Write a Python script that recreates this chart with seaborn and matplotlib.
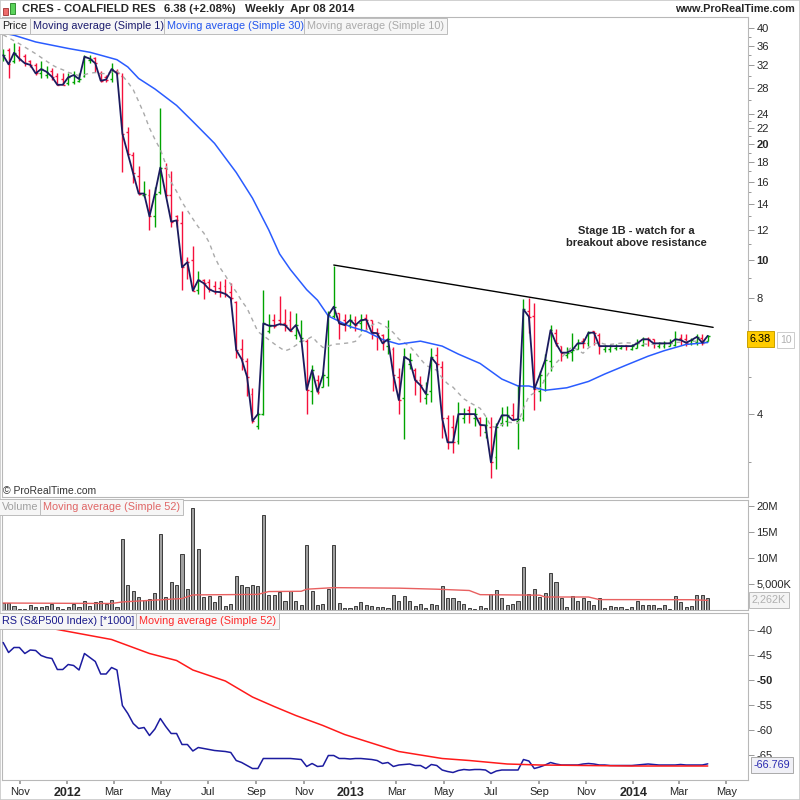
import numpy as np
import pandas as pd
import matplotlib
matplotlib.use("Agg")
import matplotlib.pyplot as plt
from matplotlib.patches import Rectangle
from matplotlib.ticker import FixedLocator, NullFormatter
import seaborn as sns

# weekly bars for CRES - Coalfield Res
first_week = "2011-10-10"

opens = [33.0, 35.0, 32.8, 35.0, 33.8, 32.8, 32.0, 30.5, 30.3, 31.0,
         30.0, 29.5, 28.8, 29.0, 29.2, 30.0, 33.0, 33.5, 30.5, 29.8,
         29.5, 31.0, 30.0, 21.5, 18.8, 16.5, 14.8, 14.8, 13.0, 15.0,
         17.4, 14.8, 13.0, 12.5, 10.0, 10.0, 8.4, 8.9, 8.8, 8.6,
         8.5, 8.6, 8.3, 7.8, 5.9, 5.5, 4.5, 3.72, 4.0, 6.55,
         7.0, 7.0, 6.9, 7.0, 6.4, 6.2, 6.2, 4.6, 4.9, 4.7,
         5.0, 7.2, 7.3, 7.0, 6.8, 7.0, 6.9, 7.1, 7.0, 6.5,
         6.4, 6.0, 5.9, 5.0, 4.4, 5.4, 5.2, 4.9, 4.4, 4.6,
         5.7, 5.3, 3.9, 3.7, 3.4, 3.9, 4.1, 3.9, 3.9, 3.6,
         3.7, 3.1, 3.8, 3.85, 3.97, 3.85, 3.9, 7.4, 7.2, 4.6,
         4.9, 5.5, 6.5, 6.0, 5.7, 5.8, 5.9, 6.2, 6.1, 6.55,
         6.4, 5.9, 5.9, 5.92, 5.95, 6.05, 5.9, 5.95, 6.05, 6.27,
         6.25, 6.0, 6.0, 6.0, 6.05, 6.3, 6.25, 6.1, 6.15, 6.3,
         6.2]
highs = [35.2, 35.5, 36.6, 35.9, 34.3, 33.1, 32.4, 32.9, 31.8, 31.5,
         30.6, 30.5, 30.6, 31.0, 30.6, 34.0, 34.0, 33.6, 31.0, 30.2,
         32.4, 31.3, 30.6, 22.2, 19.1, 17.6, 16.1, 15.3, 15.5, 24.8,
         17.9, 17.0, 13.1, 13.4, 10.2, 10.9, 9.4, 8.95, 8.95, 8.85,
         8.85, 8.95, 8.75, 7.86, 6.27, 5.6, 4.68, 4.05, 8.4, 7.25,
         7.25, 8.1, 7.47, 7.4, 7.33, 7.0, 6.27, 5.37, 5.05, 5.15,
         7.4, 9.7, 7.33, 7.25, 7.25, 7.2, 7.25, 7.25, 7.0, 6.7,
         6.45, 7.0, 5.96, 5.28, 5.93, 5.75, 5.28, 5.03, 4.85, 5.93,
         5.97, 5.5, 3.97, 3.97, 4.3, 4.14, 4.2, 4.14, 3.92, 3.92,
         3.92, 3.8, 4.17, 4.2, 4.27, 4.77, 7.93, 8.0, 7.78, 5.17,
         5.72, 6.8, 6.63, 6.0, 5.97, 6.5, 6.25, 6.3, 6.55, 6.55,
         6.5, 6.05, 6.05, 6.07, 6.05, 6.05, 6.07, 6.25, 6.32, 6.32,
         6.27, 6.15, 6.2, 6.25, 6.55, 6.45, 6.45, 6.3, 6.45, 6.45,
         6.4]
lows = [32.8, 29.7, 32.4, 32.9, 31.9, 31.6, 30.2, 29.7, 29.7, 29.4,
        28.4, 28.4, 28.4, 28.6, 29.0, 29.8, 32.4, 30.8, 29.0, 29.0,
        29.0, 30.2, 16.9, 18.8, 15.9, 14.8, 14.6, 12.0, 12.2, 14.9,
        14.6, 12.2, 12.2, 8.4, 8.95, 8.33, 8.2, 7.93, 8.3, 8.2,
        8.05, 8.03, 7.9, 5.6, 5.2, 4.45, 3.8, 3.65, 3.98, 6.5,
        6.7, 6.8, 6.56, 6.56, 6.25, 6.2, 4.0, 4.25, 4.5, 4.7,
        4.73, 7.1, 6.25, 6.56, 6.7, 6.56, 6.56, 6.6, 6.25, 5.87,
        5.87, 5.72, 4.58, 4.0, 3.45, 5.23, 4.48, 4.3, 4.25, 4.3,
        5.3, 3.47, 3.25, 3.17, 3.35, 3.8, 3.8, 3.73, 3.5, 3.47,
        2.73, 2.88, 3.73, 3.73, 3.86, 3.25, 3.85, 6.5, 4.1, 4.33,
        4.58, 5.17, 6.0, 5.5, 5.6, 5.5, 5.88, 5.93, 6.0, 6.05,
        5.72, 5.8, 5.8, 5.85, 5.9, 5.87, 5.87, 5.93, 6.0, 6.0,
        5.95, 5.93, 5.93, 6.0, 6.0, 6.05, 6.0, 6.05, 6.05, 6.05,
        6.2]
closes = [34.0, 32.2, 34.5, 33.3, 32.4, 32.1, 30.5, 31.3, 30.8, 29.9,
          28.5, 28.5, 29.8, 30.2, 29.5, 33.7, 33.3, 32.4, 29.2, 29.4,
          31.3, 30.5, 21.3, 18.9, 16.8, 14.9, 14.9, 13.0, 14.9, 17.4,
          14.8, 12.6, 12.7, 9.6, 9.9, 8.35, 8.9, 8.73, 8.42, 8.3,
          8.28, 8.19, 7.98, 5.86, 5.55, 5.0, 3.84, 4.0, 6.87, 6.78,
          6.77, 6.84, 6.8, 6.57, 6.8, 6.28, 4.62, 5.2, 4.57, 5.05,
          7.22, 7.59, 6.87, 6.8, 7.01, 6.8, 7.0, 7.03, 6.5, 6.48,
          6.1, 6.25, 5.05, 4.35, 5.63, 5.52, 4.9, 4.75, 4.51, 5.61,
          5.39, 3.9, 3.38, 3.38, 4.0, 4.0, 4.0, 4.0, 3.75, 3.74,
          3.0, 3.71, 3.97, 3.97, 3.86, 3.88, 7.47, 7.15, 4.64, 5.05,
          5.52, 6.6, 6.1, 5.77, 5.77, 5.86, 6.1, 6.1, 6.5, 6.5,
          6.0, 6.0, 6.0, 6.0, 6.0, 6.0, 6.0, 6.1, 6.25, 6.25,
          6.1, 6.1, 6.1, 6.1, 6.25, 6.22, 6.12, 6.22, 6.34, 6.12,
          6.38]

# volume in millions
volume_m = [1.3, 1.3, 0.8, 0.25, 0.25, 1.0, 0.5, 0.6, 0.8, 1.1,
            0.5, 0.2, 0.5, 1.1, 0.6, 1.8, 0.8, 1.5, 1.8, 1.1,
            2.0, 0.6, 13.7, 4.85, 3.7, 2.5, 2.0, 2.2, 3.25, 14.7,
            2.55, 5.35, 4.85, 10.7, 4.0, 19.7, 11.7, 2.55, 2.75, 1.5,
            2.75, 0.8, 1.2, 6.6, 4.85, 4.5, 4.85, 4.65, 18.25, 2.95,
            2.95, 3.45, 1.65, 3.6, 1.65, 1.0, 12.5, 3.6, 1.0, 1.2,
            4.0, 12.5, 1.35, 0.4, 0.4, 0.8, 1.5, 1.0, 0.8, 0.6,
            0.5, 0.4, 2.95, 1.65, 2.75, 1.8, 0.8, 1.2, 0.4, 1.2,
            1.0, 4.65, 2.3, 2.3, 1.8, 1.2, 0.4, 0.25, 0.8, 0.4,
            3.1, 3.9, 2.3, 1.0, 1.2, 1.8, 8.2, 3.1, 4.0, 2.5,
            3.25, 7.1, 5.35, 2.3, 0.6, 2.75, 1.8, 2.3, 1.8, 1.0,
            2.3, 0.4, 0.8, 0.6, 0.6, 0.2, 0.6, 1.8, 1.0, 1.0,
            1.0, 0.4, 1.0, 0.2, 2.75, 1.5, 0.6, 0.8, 2.95, 2.95,
            2.262]

# relative strength vs S&P500 (*1000)
rs = [-42.5, -44.5, -43.5, -43.5, -44.7, -44.0, -44.1, -45.1, -45.5, -45.7,
      -47.9, -47.9, -46.9, -47.1, -48.0, -44.7, -45.5, -46.3, -48.8, -48.8,
      -47.5, -48.0, -55.1, -56.7, -58.7, -59.7, -59.5, -61.1, -59.8, -57.7,
      -59.3, -60.7, -60.7, -62.9, -62.9, -64.2, -63.5, -63.7, -63.9, -64.1,
      -64.2, -64.3, -64.5, -66.1, -66.5, -67.1, -67.7, -67.7, -65.7, -65.7,
      -65.7, -65.7, -65.7, -65.7, -65.8, -65.9, -67.3, -66.7, -67.3, -67.2,
      -65.1, -65.1, -65.7, -65.7, -65.8, -65.7, -65.7, -65.8, -65.9, -66.1,
      -66.7, -66.5, -67.3, -67.0, -66.9, -66.8, -67.1, -67.1, -67.7, -66.9,
      -67.1, -68.0, -68.3, -68.5, -68.1, -67.9, -68.0, -67.9, -67.9, -68.0,
      -68.7, -68.2, -68.0, -68.0, -68.0, -68.0, -65.9, -66.2, -67.7, -67.4,
      -67.0, -66.5, -66.8, -67.0, -67.0, -67.0, -67.0, -66.8, -66.7, -66.8,
      -67.0, -67.0, -67.1, -67.1, -67.1, -67.1, -67.1, -67.0, -66.9, -66.8,
      -66.9, -67.0, -67.0, -67.0, -67.0, -66.9, -67.0, -67.0, -67.0, -67.0,
      -66.769]

# moving averages as drawn (they reach back before the first bar)
ma10_head_idx = [0, 3, 6]
ma10_head = [38.4, 36.4, 34.3]
ma30_idx = [0, 2, 6, 12, 16, 18, 21, 23, 25, 28, 32, 35, 39, 43, 46, 49, 51, 53, 56, 58,
            60, 64, 67, 70, 73, 77, 81, 84, 88, 92, 95, 97, 100, 104, 108, 111, 115, 119, 122, 126, 130]
ma30_vals = [38.8, 38.3, 36.8, 35.4, 34.6, 34.0, 33.1, 31.7, 29.6, 27.8, 25.2, 22.9, 20.1, 16.9, 14.5,
             12.0, 10.4, 9.47, 8.4, 7.89, 7.18, 6.74, 6.55, 6.24, 6.07, 6.18, 6.0, 5.72, 5.41, 4.93,
             4.73, 4.73, 4.61, 4.68, 4.86, 5.08, 5.36, 5.65, 5.84, 6.06, 6.13]
vol_ma_idx = [0, 20, 22, 33, 35, 47, 49, 55, 56, 61, 73, 80, 86, 88, 99, 100, 108, 110, 127, 130]
vol_ma_vals = [1.34, 1.25, 1.55, 2.2, 2.9, 3.0, 3.55, 3.6, 4.0, 4.3, 4.2, 4.0, 3.75, 2.95, 2.85,
               2.5, 2.5, 2.0, 1.98, 1.85]
rs_ma_idx = [0, 9, 12, 20, 27, 32, 35, 41, 46, 50, 54, 59, 63, 70, 73, 77, 81, 86, 93, 99, 116, 130]
rs_ma_vals = [-38.4, -39.7, -40.3, -41.9, -44.7, -46.1, -48.0, -50.2, -53.4, -55.3, -57.1, -59.1,
              -60.9, -63.3, -64.3, -65.0, -65.7, -66.1, -66.8, -67.0, -67.2, -67.2]

# resistance line
trend_dates = ["2012-12-10", "2014-04-14"]
trend_vals = [9.73, 6.71]

price_ticks = [4, 8, 10, 12, 14, 16, 18, 20, 22, 24, 28, 32, 36, 40]
price_minor = [3, 5, 6, 7, 9, 11, 13, 15, 17, 19, 21, 23, 26, 30, 34, 38]
vol_ticks = [5, 10, 15, 20]
vol_labels = ["5,000K", "10M", "15M", "20M"]
rs_ticks = [-65, -60, -55, -50, -45, -40]
month_ticks = ["2011-11-01", "2012-01-01", "2012-03-01", "2012-05-01", "2012-07-01", "2012-09-01",
               "2012-11-01", "2013-01-01", "2013-03-01", "2013-05-01", "2013-07-01", "2013-09-01",
               "2013-11-01", "2014-01-01", "2014-03-01", "2014-05-01"]
month_labels = ["Nov", "2012", "Mar", "May", "Jul", "Sep", "Nov", "2013", "Mar", "May", "Jul", "Sep",
                "Nov", "2014", "Mar", "May"]

sns.set_theme(style="white")
plt.rcParams["font.family"] = ["Liberation Sans", "DejaVu Sans"]

dates = pd.date_range(first_week, periods=len(closes), freq="7D")
o = np.array(opens)
c = np.array(closes)
bar_col = np.where(c >= o, "#00a400", "#f5103c")

fig = plt.figure(figsize=(8, 8), dpi=100)
W = 0.933
ax_p = fig.add_axes([0.002, 0.37875, W, 0.6])
ax_v = fig.add_axes([0.002, 0.2375, W, 0.1375], sharex=ax_p)
ax_r = fig.add_axes([0.002, 0.025, W, 0.20875], sharex=ax_p)


def frame(ax):
    for s in ax.spines.values():
        s.set_color("#b8b8b8")
        s.set_linewidth(0.8)
    ax.yaxis.tick_right()
    ax.tick_params(axis="y", which="both", right=True, left=False, color="#999999",
                   labelsize=8, pad=2, width=0.7)
    ax.tick_params(axis="y", which="major", length=4)
    ax.tick_params(axis="y", which="minor", length=2)
    ax.set_xlabel("")
    ax.set_ylabel("")


# price panel
tick = pd.Timedelta(days=2.4)
ax_p.vlines(dates, lows, highs, colors=bar_col, lw=1.0, zorder=2)
ax_p.hlines(opens, dates - tick, dates, colors=bar_col, lw=1.0, zorder=2)
ax_p.hlines(closes, dates, dates + tick, colors=bar_col, lw=1.0, zorder=2)

ma10 = pd.Series(closes).rolling(10).mean()
ma10.iloc[ma10_head_idx] = ma10_head
ok = ma10.notna().values
sns.lineplot(x=dates[ok], y=ma10[ok].values, ax=ax_p, color="#aaaaaa", lw=1.0,
             linestyle=(0, (3, 3)), zorder=3)
sns.lineplot(x=dates[ma30_idx], y=ma30_vals, ax=ax_p, color="#2a5cff", lw=1.1, zorder=3)
sns.lineplot(x=dates, y=closes, ax=ax_p, color="#1b1b5e", lw=1.3, zorder=4)
ax_p.plot(pd.to_datetime(trend_dates), trend_vals, color="black", lw=1.0, zorder=4)

ax_p.set_yscale("log")
ax_p.set_ylim(2.44, 42.7)
ax_p.yaxis.set_major_locator(FixedLocator(price_ticks))
ax_p.yaxis.set_minor_locator(FixedLocator(price_minor))
ax_p.yaxis.set_minor_formatter(NullFormatter())
ax_p.set_yticklabels([str(t) for t in price_ticks])
frame(ax_p)
for lab, t in zip(ax_p.get_yticklabels(), price_ticks):
    if t in (10, 20):
        lab.set_fontweight("bold")
ax_p.tick_params(axis="x", bottom=False, labelbottom=False)

ax_p.set_xlim(pd.Timestamp("2011-10-08"), pd.Timestamp("2014-05-29"))

# volume panel
ax_v.bar(dates, volume_m, width=4, color="#a0a0a0", edgecolor="#3c3c3c", lw=0.7, zorder=2)
sns.lineplot(x=dates[vol_ma_idx], y=vol_ma_vals, ax=ax_v, color="#e86060", lw=1.0, zorder=3)
ax_v.set_ylim(0, 21.15)
ax_v.set_yticks(vol_ticks)
ax_v.set_yticklabels(vol_labels)
frame(ax_v)
ax_v.tick_params(axis="x", bottom=False, labelbottom=False)

# relative strength panel
sns.lineplot(x=dates, y=rs, ax=ax_r, color="#1c1ca0", lw=1.1, zorder=3)
sns.lineplot(x=dates[rs_ma_idx], y=rs_ma_vals, ax=ax_r, color="#ff1a1a", lw=1.1, zorder=4)
ax_r.set_ylim(-70, -36.6)
ax_r.set_yticks(rs_ticks)
ax_r.set_yticklabels([str(t) for t in rs_ticks])
frame(ax_r)
for lab, t in zip(ax_r.get_yticklabels(), rs_ticks):
    if t == -50:
        lab.set_fontweight("bold")

ax_r.set_xticks(pd.to_datetime(month_ticks))
ax_r.set_xticklabels(month_labels)
ax_r.tick_params(axis="x", bottom=True, length=3, color="#999999", labelsize=8, pad=2)
for lab in ax_r.get_xticklabels():
    if lab.get_text().isdigit():
        lab.set_fontweight("bold")
        lab.set_fontsize(9)
ax_r.set_xlabel("")


def tag(x_px, y_px, text, color, size=7.8, fc="#f6f6f6", ec="#bdbdbd", **kw):
    fig.text(x_px / 800, 1 - y_px / 800, text, color=color, fontsize=size, ha="left",
             va="center", bbox=dict(boxstyle="square,pad=0.25", fc=fc, ec=ec, lw=0.7), **kw)


# legends inside the panels
tag(2, 26, "Price", "#222222")
tag(33, 26, "Moving average (Simple 1)", "#1b1b6e")
tag(167, 26, "Moving average (Simple 30)", "#2255ee")
tag(307, 26, "Moving average (Simple 10)", "#aaaaaa")
tag(2, 507, "Volume", "#a0a0a0")
tag(43, 507, "Moving average (Simple 52)", "#e06666")
tag(2, 621, "RS (S&P500 Index) [*1000]", "#1a1a8c")
tag(139, 621, "Moving average (Simple 52)", "#ff2a2a")

# last value boxes on the right
tag(750, 339, "6.38", "black", fc="#ffcc00", ec="#c9a000")
tag(780, 340, "10", "#b0b0b0", size=7.5, fc="white", ec="#cccccc")
tag(752, 600, "2,262K", "#b0b0b0", fc="#f4f4f4", ec="#bbbbbb")
tag(754, 765, "-66.769", "#2a2ab0", fc="#f0f0f6", ec="#aaaaaa")

# header
fig.add_artist(Rectangle((3 / 800, 1 - 15 / 800), 5 / 800, 7 / 800, transform=fig.transFigure,
                         fc="#ee6a6a", ec="#a03030", lw=0.6))
fig.add_artist(Rectangle((10 / 800, 1 - 14 / 800), 5 / 800, 11 / 800, transform=fig.transFigure,
                         fc="#5ad35a", ec="#208020", lw=0.6))
fig.text(22 / 800, 1 - 9 / 800, "CRES - COALFIELD RES", fontsize=8.2, fontweight="bold", va="center")
fig.text(164 / 800, 1 - 9 / 800, "6.38 (+2.08%)", fontsize=8.2, fontweight="bold", va="center")
fig.text(245 / 800, 1 - 9 / 800, "Weekly  Apr 08 2014", fontsize=8.2, fontweight="bold", va="center")
fig.text(795 / 800, 1 - 9 / 800, "www.ProRealTime.com", fontsize=7.8, fontweight="bold",
         va="center", ha="right")

fig.text(3 / 800, 1 - 491 / 800, "\u00a9 ProRealTime.com", fontsize=7.5, color="#333333", va="center")
fig.text(636 / 800, 1 - 237 / 800, "Stage 1B - watch for a\nbreakout above resistance",
         fontsize=8, fontweight="bold", ha="center", va="center", linespacing=1.25)

fig.add_artist(Rectangle((0, 0), 1, 1, transform=fig.transFigure, fill=False, ec="#c8c8c8", lw=1.2))

fig.savefig("out.png", dpi=100, facecolor="white")
